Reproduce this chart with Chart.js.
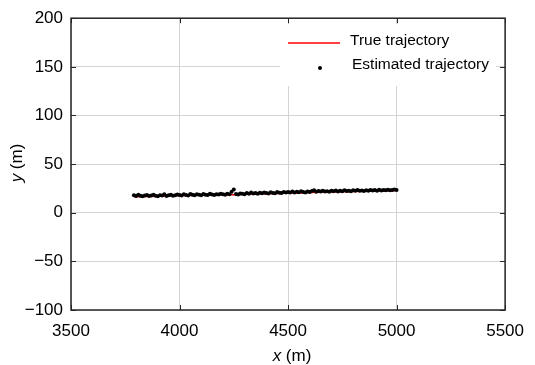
<!DOCTYPE html>
<html>
<head>
<meta charset="utf-8">
<script src="https://cdn.jsdelivr.net/npm/chart.js@4.4.1/dist/chart.umd.min.js"></script>
<style>
  body { margin: 0; background: #fff; }
  #wrap { width: 535px; height: 365px; position: relative; }
</style>
</head>
<body>
<div id="wrap"><canvas id="chartTrajectory"></canvas></div>
<script>
// true trajectory (x, y in m)
var trueX = [3790, 3850, 3900, 3950, 4000, 4050, 4100, 4150, 4200, 4250, 4300, 4350, 4400,
             4450, 4500, 4550, 4600, 4650, 4700, 4750, 4800, 4850, 4900, 4950, 5000];
var trueY = [16.5, 16.8, 17.0, 17.3, 17.6, 17.8, 18.0, 18.2, 18.5, 18.4, 18.9, 19.3, 19.6,
             19.9, 20.2, 20.4, 20.7, 21.0, 21.2, 21.5, 21.8, 22.0, 22.3, 22.5, 22.8];

// estimated trajectory
var estX = [3790, 3800, 3810, 3820, 3830, 3840, 3850, 3860, 3870, 3880, 3890, 3900, 3910, 3920,
            3930, 3940, 3950, 3960, 3970, 3980, 3990, 4000, 4010, 4020, 4030, 4040, 4050, 4060,
            4070, 4080, 4090, 4100, 4110, 4120, 4130, 4140, 4150, 4160, 4170, 4180, 4190, 4200,
            4210, 4220, 4230, 4240, 4250, 4260, 4270, 4280, 4290, 4300, 4310, 4320, 4330, 4340,
            4350, 4360, 4370, 4380, 4390, 4400, 4410, 4420, 4430, 4440, 4450, 4460, 4470, 4480,
            4490, 4500, 4510, 4520, 4530, 4540, 4550, 4560, 4570, 4580, 4590, 4600, 4610, 4620,
            4630, 4640, 4650, 4660, 4670, 4680, 4690, 4700, 4710, 4720, 4730, 4740, 4750, 4760,
            4770, 4780, 4790, 4800, 4810, 4820, 4830, 4840, 4850, 4860, 4870, 4880, 4890, 4900,
            4910, 4920, 4930, 4940, 4950, 4960, 4970, 4980, 4990, 5000];
var estY = [18.0, 17.2, 18.4, 17.5, 16.9, 17.8, 18.3, 17.1, 17.6, 18.5, 17.4, 17.0, 18.1, 17.7,
            18.9, 17.3, 18.0, 18.6, 17.5, 17.9, 18.8, 18.2, 17.6, 18.9, 18.3, 17.8, 19.2, 18.4,
            18.0, 19.0, 18.5, 18.1, 19.3, 18.6, 18.2, 19.4, 18.8, 18.3, 19.1, 18.7, 19.6, 18.9,
            18.4, 19.5, 19.0, 21.5, 24.0, 19.2, 18.8, 19.9, 19.4, 19.0, 20.2, 19.6, 20.8, 19.7,
            20.3, 19.5, 20.6, 20.0, 20.9, 20.2, 19.8, 21.0, 20.4, 20.0, 21.2, 20.6, 20.2, 21.3,
            20.8, 21.4, 20.7, 21.8, 20.9, 21.5, 21.0, 22.0, 21.2, 20.8, 21.9, 21.3, 22.3, 23.2,
            21.6, 22.4, 21.8, 22.6, 21.9, 22.2, 21.5, 22.5, 22.0, 22.8, 21.9, 22.6, 22.1, 23.0,
            22.3, 22.7, 22.0, 23.1, 22.5, 23.4, 22.6, 22.9, 22.3, 23.2, 22.7, 23.5, 22.8, 23.3,
            22.6, 23.6, 22.9, 23.4, 23.0, 23.7, 23.1, 23.5, 23.8, 23.3];

var xTicks = [3500, 4000, 4500, 5000, 5500];
var yTicks = [-100, -50, 0, 50, 100, 150, 200];
var legendLabels = ['True trajectory', 'Estimated trajectory'];

function pairs(xs, ys) {
    return xs.map(function (x, i) { return { x: x, y: ys[i] }; });
}

var FONT = '"Liberation Sans", Arial, sans-serif';

// frame, inward ticks, legend and axis titles
var decorPlugin = {
    id: 'decor',
    afterDraw: function (chart) {
        var ctx = chart.ctx;
        var a = chart.chartArea;
        var sx = chart.scales.x, sy = chart.scales.y;
        ctx.save();

        // legend box
        ctx.fillStyle = '#fff';
        ctx.fillRect(280, 24, 216, 62);
        ctx.strokeStyle = '#ff0000';
        ctx.lineWidth = 1.6;
        ctx.beginPath();
        ctx.moveTo(288, 43);
        ctx.lineTo(340, 43);
        ctx.stroke();
        ctx.fillStyle = '#000';
        ctx.beginPath();
        ctx.arc(320, 68, 2, 0, Math.PI * 2);
        ctx.fill();
        ctx.fillStyle = '#000';
        ctx.font = '15.5px ' + FONT;
        ctx.textBaseline = 'middle';
        ctx.textAlign = 'left';
        ctx.fillText(legendLabels[0], 350, 41);
        ctx.fillText(legendLabels[1], 352, 65);

        // inward ticks
        ctx.strokeStyle = '#262626';
        ctx.lineWidth = 1;
        ctx.beginPath();
        xTicks.forEach(function (v) {
            var px = Math.round(sx.getPixelForValue(v)) + 0.5;
            ctx.moveTo(px, a.bottom); ctx.lineTo(px, a.bottom - 5);
            ctx.moveTo(px, a.top); ctx.lineTo(px, a.top + 5);
        });
        yTicks.forEach(function (v) {
            var py = Math.round(sy.getPixelForValue(v)) + 0.5;
            ctx.moveTo(a.left, py); ctx.lineTo(a.left + 5, py);
            ctx.moveTo(a.right, py); ctx.lineTo(a.right - 5, py);
        });
        ctx.stroke();

        // frame
        ctx.lineWidth = 1.5;
        ctx.strokeRect(a.left, a.top, a.right - a.left, a.bottom - a.top);

        // axis titles, italic variable + plain unit
        ctx.fillStyle = '#000';
        ctx.textBaseline = 'middle';
        function mixed(v, unit, cx, cy) {
            ctx.font = 'italic 17px ' + FONT;
            var w1 = ctx.measureText(v).width;
            ctx.font = '17px ' + FONT;
            var w2 = ctx.measureText(unit).width;
            var x0 = cx - (w1 + w2) / 2;
            ctx.textAlign = 'left';
            ctx.font = 'italic 17px ' + FONT;
            ctx.fillText(v, x0, cy);
            ctx.font = '17px ' + FONT;
            ctx.fillText(unit, x0 + w1, cy);
        }
        mixed('x', ' (m)', 292, 356);
        ctx.translate(17, 163);
        ctx.rotate(-Math.PI / 2);
        mixed('y', ' (m)', 0, 0);

        ctx.restore();
    }
};

const trajectory = new Chart(document.getElementById('chartTrajectory'), {
    type: 'scatter',
    data: {
        datasets: [{
            label: legendLabels[1],
            data: pairs(estX, estY),
            backgroundColor: '#000',
            borderColor: '#000',
            pointRadius: 2,
            pointBorderWidth: 0,
            order: 1
        }, {
            label: legendLabels[0],
            data: pairs(trueX, trueY),
            showLine: true,
            borderColor: '#ff0000',
            borderWidth: 1.5,
            pointRadius: 0,
            order: 2
        }]
    },
    options: {
        responsive: true,
        maintainAspectRatio: false,
        animation: false,
        layout: { padding: { top: 15, right: 26, left: 0, bottom: 0 } },
        plugins: {
            legend: { display: false },
            tooltip: { enabled: false }
        },
        scales: {
            x: {
                type: 'linear',
                min: 3500,
                max: 5500,
                afterFit: function (s) { s.height = 55; },
                afterBuildTicks: function (s) { s.ticks = xTicks.map(function (v) { return { value: v }; }); },
                grid: { color: '#d4d4d4', drawTicks: false },
                border: { display: false },
                ticks: {
                    padding: 11,
                    color: '#000',
                    font: { family: FONT, size: 17 },
                    callback: function (v) { return String(v); }
                }
            },
            y: {
                type: 'linear',
                min: -100,
                max: 200,
                afterFit: function (s) { s.width = 71; },
                afterBuildTicks: function (s) { s.ticks = yTicks.map(function (v) { return { value: v }; }); },
                grid: { color: '#d4d4d4', drawTicks: false },
                border: { display: false },
                ticks: {
                    padding: 8,
                    color: '#000',
                    font: { family: FONT, size: 17 },
                    callback: function (v) { return String(v).replace('-', '\u2212'); }
                }
            }
        }
    },
    plugins: [decorPlugin]
});
</script>
</body>
</html>
